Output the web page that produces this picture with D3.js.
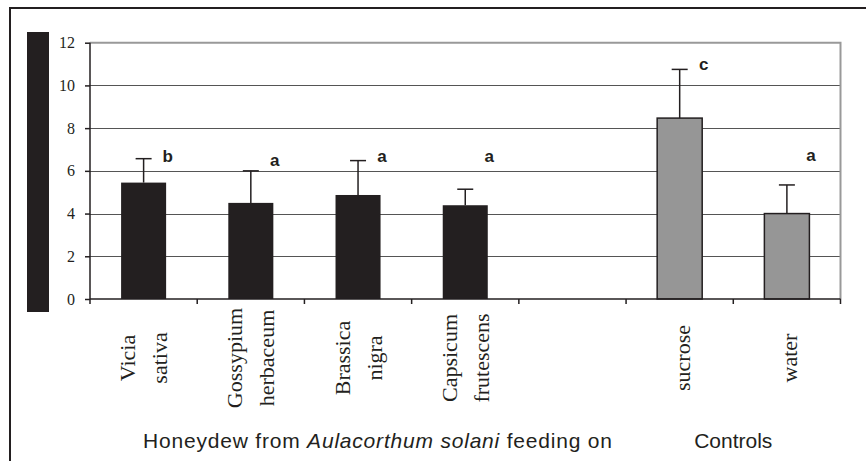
<!DOCTYPE html>
<html>
<head>
<meta charset="utf-8">
<script src="https://cdn.jsdelivr.net/npm/d3@7"></script>
<style>
  body { margin: 0; background: #fff; }
  svg { display: block; }
  .ytick text { font-family: "Liberation Serif", serif; font-size: 16px; fill: #231f20; }
  .xlab { font-family: "Liberation Serif", serif; font-size: 22px; fill: #231f20; }
  .sig { font-family: "Liberation Sans", Arial, sans-serif; font-size: 17px; font-weight: bold; fill: #231f20; }
  .group { font-family: "Liberation Sans", Arial, sans-serif; font-size: 21px; fill: #231f20; }
</style>
</head>
<body>
<div id="chart"></div>
<script>
// slots on the x axis, one is left empty between the two groups
var categories = ["Vicia sativa", "Gossypium herbaceum", "Brassica nigra", "Capsicum frutescens", "gap", "sucrose", "water"];
var labelLines = [["Vicia", "sativa"], ["Gossypium", "herbaceum"], ["Brassica", "nigra"], ["Capsicum", "frutescens"], [], ["sucrose"], ["water"]];
var means = [5.45, 4.5, 4.87, 4.39, null, 8.47, 4.0];
var errUp = [1.12, 1.5, 1.61, 0.75, null, 2.28, 1.34];
var groups = ["honeydew", "honeydew", "honeydew", "honeydew", null, "control", "control"];
var letters = ["b", "a", "a", "a", "", "c", "a"];
var letterAt = [6.68, 6.53, 6.68, 6.68, null, 11.0, 6.73];
var yTicks = [0, 2, 4, 6, 8, 10, 12];

var width = 866,
  height = 461;

var x = d3.scaleBand()
  .domain(categories)
  .range([90, 840.5])
  .padding(0);

var y = d3.scaleLinear()
  .domain([0, 12])
  .range([299, 42.7]);

var barW = x.bandwidth() * 0.42;

var svg = d3.select("#chart").append("svg")
  .attr("width", width)
  .attr("height", height);

// outer frame (only top and left edges are visible)
svg.append("path")
  .attr("d", "M10," + height + "V8H" + width)
  .attr("fill", "none")
  .attr("stroke", "#231f20")
  .attr("stroke-width", 2);

// the blacked-out y axis title
svg.append("rect")
  .attr("x", 27).attr("y", 32)
  .attr("width", 22).attr("height", 280)
  .attr("fill", "#231f20");

// gridlines
svg.append("g")
  .selectAll("line")
  .data(yTicks.filter(function(d) { return d > 0 && d < 12; }))
  .enter().append("line")
  .attr("x1", 90).attr("x2", 840.5)
  .attr("y1", function(d) { return Math.round(y(d)) + 0.5; })
  .attr("y2", function(d) { return Math.round(y(d)) + 0.5; })
  .attr("stroke", "#555")
  .attr("stroke-width", 1);

// plot area border top + right
svg.append("path")
  .attr("d", "M90," + y(12) + "H840.5V" + y(0))
  .attr("fill", "none")
  .attr("stroke", "#999")
  .attr("stroke-width", 2);

// bars
svg.append("g")
  .selectAll("rect")
  .data(categories.map(function(c, i) { return {c: c, i: i}; }).filter(function(d) { return means[d.i] != null; }))
  .enter().append("rect")
  .attr("x", function(d) { return x(d.c) + (x.bandwidth() - barW) / 2; })
  .attr("y", function(d) { return y(means[d.i]); })
  .attr("width", barW)
  .attr("height", function(d) { return y(0) - y(means[d.i]); })
  .attr("fill", function(d) { return groups[d.i] == "control" ? "#969696" : "#231f20"; })
  .attr("stroke", "#231f20")
  .attr("stroke-width", function(d) { return groups[d.i] == "control" ? 1.5 : 0; });

// error bars
var eb = svg.append("g")
  .attr("stroke", "#231f20")
  .attr("stroke-width", 1.5);

categories.forEach(function(c, i) {
  if (means[i] == null) {
    return;
  }
  var cx = x(c) + x.bandwidth() / 2;
  var top = y(means[i] + errUp[i]);
  eb.append("line")
    .attr("x1", cx).attr("x2", cx)
    .attr("y1", y(means[i])).attr("y2", top);
  eb.append("line")
    .attr("x1", cx - 8).attr("x2", cx + 8)
    .attr("y1", top).attr("y2", top);

  svg.append("text")
    .attr("class", "sig")
    .attr("x", cx + 24)
    .attr("y", y(letterAt[i]))
    .attr("dy", "0.36em")
    .attr("text-anchor", "middle")
    .text(letters[i]);
});

// y axis
var yAxis = svg.append("g")
  .attr("class", "ytick")
  .attr("transform", "translate(90,0)")
  .call(d3.axisLeft(y).tickValues(yTicks).tickSize(5).tickPadding(10));
yAxis.select(".domain").attr("stroke", "#231f20").attr("stroke-width", 1.5)
  .attr("d", "M0," + y(12) + "V" + (y(0) + 5));
yAxis.selectAll(".tick line").attr("stroke", "#231f20").attr("stroke-width", 1.5);
yAxis.selectAll(".tick text").attr("fill", "#231f20");

// x axis line and slot ticks
var xg = svg.append("g")
  .attr("stroke", "#231f20")
  .attr("stroke-width", 1.5);
xg.append("line")
  .attr("x1", 90).attr("x2", 840.5)
  .attr("y1", y(0)).attr("y2", y(0));
xg.selectAll(".slot")
  .data(categories.slice(1).concat(["end"]))
  .enter().append("line")
  .attr("x1", function(d, i) { return x.range()[0] + x.step() * (i + 1); })
  .attr("x2", function(d, i) { return x.range()[0] + x.step() * (i + 1); })
  .attr("y1", y(0)).attr("y2", y(0) + 5);

// rotated category labels
categories.forEach(function(c, i) {
  var lines = labelLines[i];
  if (!lines.length) {
    return;
  }
  var cx = x(c) + x.bandwidth() / 2;
  var g = svg.append("g")
    .attr("transform", "translate(" + cx + ",358) rotate(-90)");
  var offs = lines.length == 2 ? [-8.5, 23.5] : [10];
  lines.forEach(function(l, j) {
    g.append("text")
      .attr("class", "xlab")
      .attr("x", 0)
      .attr("y", offs[j])
      .attr("text-anchor", "middle")
      .text(l);
  });
});

// group titles
var ht = svg.append("text")
  .attr("class", "group")
  .attr("x", 143)
  .attr("y", 448)
  .attr("textLength", 469)
  .attr("lengthAdjust", "spacing")
  .style("white-space", "pre");
ht.append("tspan").text("Honeydew from ");
ht.append("tspan").style("font-style", "italic").text("Aulacorthum solani");
ht.append("tspan").text(" feeding on");

svg.append("text")
  .attr("class", "group")
  .attr("x", (x("sucrose") + x("water") + x.bandwidth()) / 2)
  .attr("y", 448)
  .attr("text-anchor", "middle")
  .text("Controls");
</script>
</body>
</html>
